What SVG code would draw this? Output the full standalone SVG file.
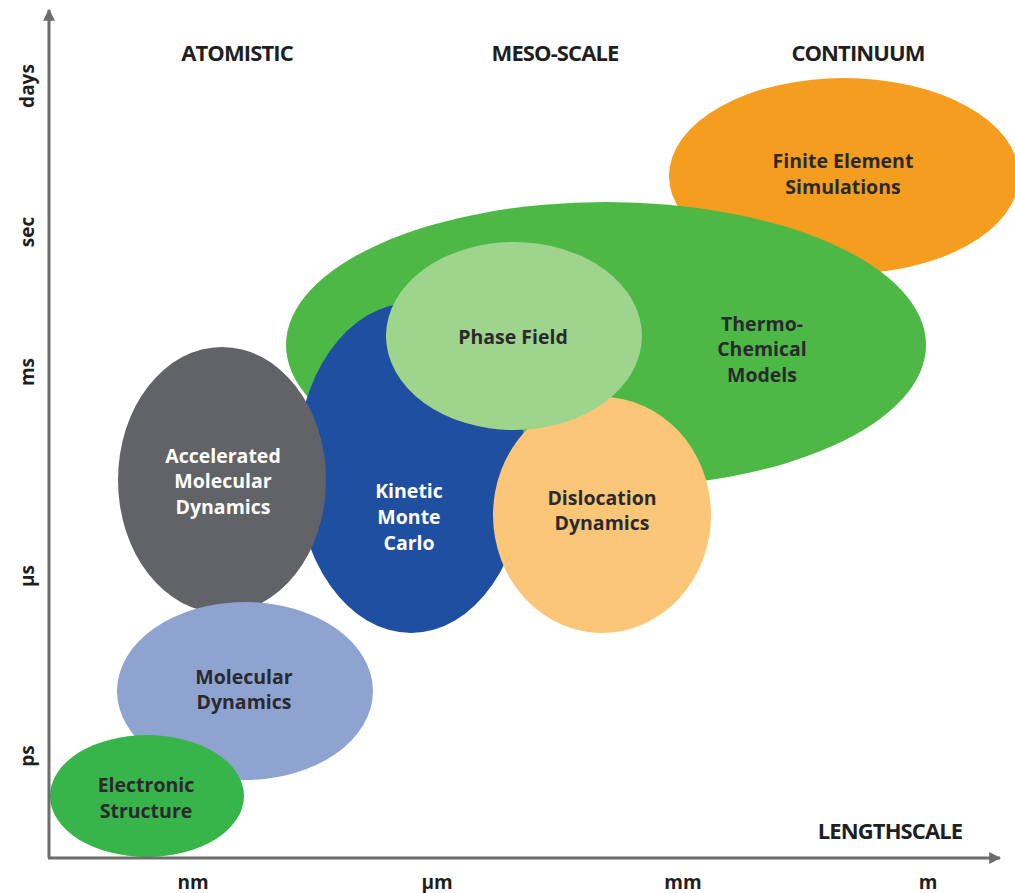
<svg xmlns="http://www.w3.org/2000/svg" width="1015" height="893" viewBox="0 0 1015 893">
<style>
.t{font-family:"Open Sans","Liberation Sans",sans-serif;font-weight:700;font-size:19.5px;fill:#2a2a2e;text-anchor:middle}
.w{fill:#ffffff}
.h{font-family:"Open Sans","Liberation Sans",sans-serif;font-weight:700;font-size:22px;fill:#1f1f22;text-anchor:middle;letter-spacing:-0.9px}
.ax{font-family:"Open Sans","Liberation Sans",sans-serif;font-weight:700;font-size:19px;fill:#1f1f22;text-anchor:middle}
</style>
<defs>
<marker id="ah" viewBox="0 0 10 10" refX="9" refY="5" markerWidth="4" markerHeight="4" orient="auto" markerUnits="strokeWidth">
<path d="M0,0 L10,5 L0,10 z" fill="#6d6d6f"/>
</marker>
</defs>
<rect width="1015" height="893" fill="#ffffff"/>
<g id="fe"><ellipse cx="844" cy="176" rx="175" ry="98" fill="#f49d1f"/>
<text class="t" x="843" y="168">Finite Element</text><text class="t" x="843" y="194">Simulations</text></g>
<g id="thermo"><ellipse cx="606" cy="345" rx="320" ry="143" fill="#4eb847"/>
<text class="t" x="762" y="331">Thermo-</text><text class="t" x="762" y="356">Chemical</text><text class="t" x="762" y="382">Models</text></g>
<g id="kmc"><ellipse cx="411" cy="468" rx="115" ry="165" fill="#1f4fa1"/>
<text class="t w" x="409" y="498">Kinetic</text><text class="t w" x="409" y="524">Monte</text><text class="t w" x="409" y="550">Carlo</text></g>
<g id="disloc"><ellipse cx="602" cy="515" rx="109" ry="118" fill="#fcc679"/>
<text class="t" x="602" y="505">Dislocation</text><text class="t" x="602" y="530">Dynamics</text></g>
<g id="phase"><ellipse cx="514" cy="336" rx="128" ry="94" fill="#9fd48d"/>
<text class="t" x="513" y="344">Phase Field</text></g>
<g id="amd"><ellipse cx="222" cy="480" rx="104" ry="133" fill="#626366"/>
<text class="t w" x="223" y="463">Accelerated</text><text class="t w" x="223" y="488">Molecular</text><text class="t w" x="223" y="514">Dynamics</text></g>
<g id="md"><ellipse cx="245" cy="691" rx="128" ry="89" fill="#8fa3d1"/>
<text class="t" x="244" y="684">Molecular</text><text class="t" x="244" y="709">Dynamics</text></g>
<g id="es"><ellipse cx="147" cy="796" rx="97" ry="61" fill="#37b44a"/>
<text class="t" x="146" y="792">Electronic</text><text class="t" x="146" y="818">Structure</text></g>
<g id="axes" fill="none" stroke="#6d6d6f" stroke-width="3">
<path d="M49,858 L49,10" marker-end="url(#ah)"/>
<path d="M48,858 L1000,858" marker-end="url(#ah)"/>
</g>
<g id="labels">
<text class="h" x="237" y="61">ATOMISTIC</text>
<text class="h" x="555" y="61">MESO-SCALE</text>
<text class="h" x="858" y="61">CONTINUUM</text>
<text class="h" x="890" y="839">LENGTHSCALE</text>
<text class="ax" x="193" y="889">nm</text>
<text class="ax" x="437" y="889">μm</text>
<text class="ax" x="683" y="889">mm</text>
<text class="ax" x="928" y="889">m</text>
<text class="ax" transform="translate(34,86) rotate(-90)">days</text>
<text class="ax" transform="translate(34,232) rotate(-90)">sec</text>
<text class="ax" transform="translate(34,372) rotate(-90)">ms</text>
<text class="ax" transform="translate(34,576) rotate(-90)">μs</text>
<text class="ax" transform="translate(34,756) rotate(-90)">ps</text>
</g>
</svg>
